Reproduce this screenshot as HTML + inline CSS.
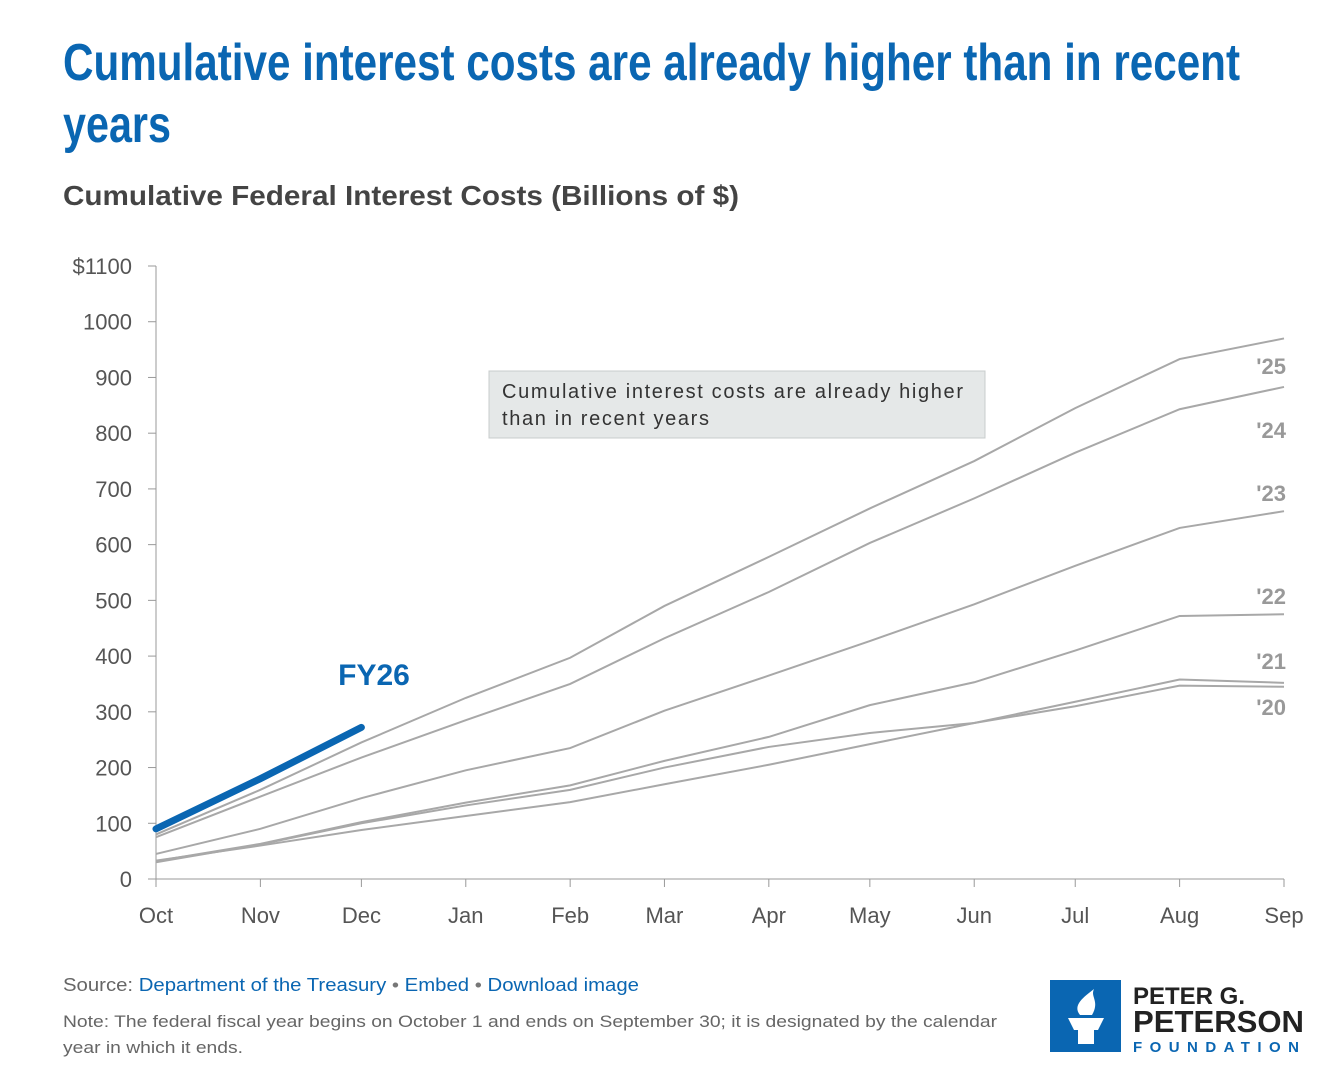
<!DOCTYPE html>
<html><head><meta charset="utf-8"><style>
html,body{margin:0;padding:0;background:#fff;width:1344px;height:1092px;overflow:hidden}
svg{display:block;font-family:"Liberation Sans",sans-serif}
</style></head><body>
<svg id="chart" width="1344" height="1092" viewBox="0 0 1344 1092">
<text x="63" y="80" font-size="52" font-weight="bold" fill="#0a66b2" textLength="1177" lengthAdjust="spacingAndGlyphs">Cumulative interest costs are already higher than in recent</text>
<text x="63" y="142" font-size="52" font-weight="bold" fill="#0a66b2" textLength="108" lengthAdjust="spacingAndGlyphs">years</text>
<text x="63" y="205" font-size="28" font-weight="bold" fill="#444" textLength="676" lengthAdjust="spacingAndGlyphs">Cumulative Federal Interest Costs (Billions of $)</text>
<g id="axes"></g>
<g id="lines"></g>
<g>
<rect x="489" y="371" width="496" height="67" fill="#e5e8e8" stroke="#c8cccc"/>
<text x="502" y="398" font-size="20" fill="#333" textLength="461" lengthAdjust="spacing">Cumulative interest costs are already higher</text>
<text x="502" y="425" font-size="20" fill="#333" textLength="207" lengthAdjust="spacing">than in recent years</text>
</g>
<text x="63" y="991" font-size="18" fill="#666" textLength="576" lengthAdjust="spacingAndGlyphs">Source: <tspan fill="#0a66b2">Department of the Treasury</tspan><tspan fill="#777">  •  </tspan><tspan fill="#0a66b2">Embed</tspan><tspan fill="#777">  •  </tspan><tspan fill="#0a66b2">Download image</tspan></text>
<text x="63" y="1027" font-size="17" fill="#666" textLength="934" lengthAdjust="spacingAndGlyphs">Note: The federal fiscal year begins on October 1 and ends on September 30; it is designated by the calendar</text>
<text x="63" y="1053" font-size="17" fill="#666" textLength="180" lengthAdjust="spacingAndGlyphs">year in which it ends.</text>
<g>
<rect x="1050" y="980" width="71" height="72" fill="#0a66b2"/>
<path d="M1068 1018 h36 l-6 12 h-24 z M1078 1030 h16 v14 h-16 z" fill="#fff"/>
<path d="M1080 1015 c-8-10 4-18 14-26 c-4 8 6 12 -2 26 z" fill="#fff"/>
<text x="1133" y="1004" font-size="24" font-weight="bold" fill="#222">PETER G.</text>
<text x="1133" y="1032" font-size="31" font-weight="bold" fill="#222" textLength="171" lengthAdjust="spacingAndGlyphs">PETERSON</text>
<text x="1133" y="1052" font-size="15" font-weight="bold" fill="#0a66b2" textLength="171" letter-spacing="5">FOUNDATION</text>
</g>
</svg>
<script>
const months = ["Oct","Nov","Dec","Jan","Feb","Mar","Apr","May","Jun","Jul","Aug","Sep"];
const monthDays = [0,31,61,92,123,151,182,212,243,273,304,335];
const yTicks = [0,100,200,300,400,500,600,700,800,900,1000,1100];
const seriesNames = ["'20","'21","'22","'23","'24","'25"];
const s20 = [33,60,88,113,138,170,205,242,280,310,347,345];
const s21 = [30,62,100,132,160,200,237,262,280,318,358,352];
const s22 = [32,63,102,137,168,212,255,312,353,410,472,475];
const s23 = [45,90,145,195,235,302,365,427,493,562,630,660];
const s24 = [75,148,218,285,350,432,515,603,683,765,843,883];
const s25 = [80,160,245,325,397,490,578,665,750,845,933,970];
const fy26 = [90,180,272];

const NS="http://www.w3.org/2000/svg";
const X0=156,X1=1284,Y0=879,Y1=266;
const x=d=>X0+(d/335)*(X1-X0);
const y=v=>Y0-(v/1100)*(Y0-Y1);
function mk(tag,attrs,parent){const e=document.createElementNS(NS,tag);for(const k in attrs)e.setAttribute(k,attrs[k]);parent.appendChild(e);return e;}
const axes=document.getElementById('axes'), lines=document.getElementById('lines');
let yl=mk('line',{x1:X0,x2:X0,y1:Y1,y2:Y0,stroke:'#999'},axes);


let xl=mk('line',{x1:X0,x2:X1,y1:Y0,y2:Y0,stroke:'#999'},axes);


yTicks.forEach(v=>{
  mk('line',{x1:X0-8,x2:X0,y1:y(v),y2:y(v),stroke:'#999'},axes);
  const t=mk('text',{x:132,y:y(v)+8,'text-anchor':'end','font-size':22,fill:'#555'},axes);
  t.textContent=(v===1100?'$':'')+v;
  
  
});
months.forEach((m,i)=>{
  const px=x(monthDays[i]);
  mk('line',{x1:px,x2:px,y1:Y0,y2:Y0+8,stroke:'#999'},axes);
  const t=mk('text',{x:px,y:923,'text-anchor':'middle','font-size':22,fill:'#555'},axes);
  t.textContent=m;
  
  
});
const all=[s20,s21,s22,s23,s24,s25];
const labelY=[707,661,596,493,430,366];
all.forEach((s,k)=>{
  const p=mk('polyline',{points:s.map((v,i)=>x(monthDays[i])+','+y(v)).join(' '),fill:'none',stroke:'#a8a8a8','stroke-width':2},lines);
  
  
  const t=mk('text',{x:1286,y:labelY[k]+8,'text-anchor':'end','font-size':22,'font-weight':'bold',fill:'#999'},lines);
  t.textContent=seriesNames[k];
  
  
});
const f=mk('polyline',{points:fy26.map((v,i)=>x(monthDays[i])+','+y(v)).join(' '),fill:'none',stroke:'#0a66b2','stroke-width':7,'stroke-linecap':'round'},lines);


const fl=mk('text',{x:374,y:685,'text-anchor':'middle','font-size':30,'font-weight':'bold',fill:'#0a66b2'},lines);
fl.textContent='FY26';


</script>
</body></html>
